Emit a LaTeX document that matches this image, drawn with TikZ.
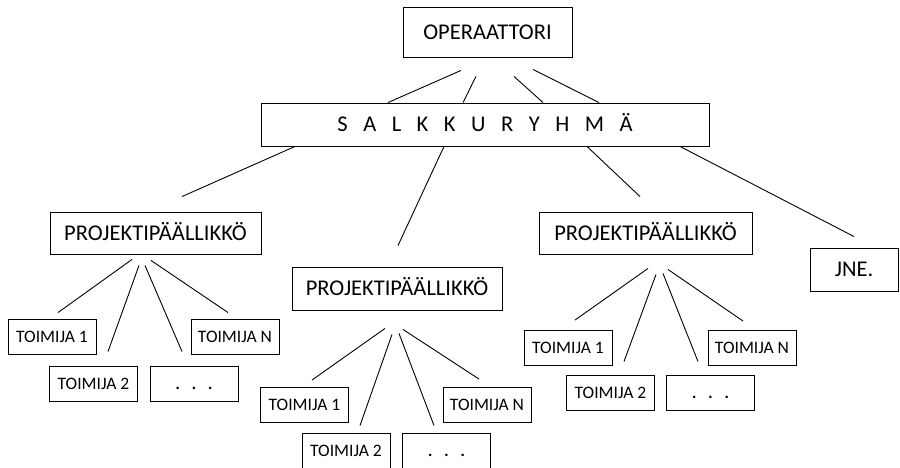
\documentclass[tikz,border=0pt]{standalone}
\usepackage{fontspec}
\setmainfont{Carlito}
\usetikzlibrary{calc}
\tikzset{box/.style={draw, line width=0.9pt, inner sep=0pt, text height=14.5pt, text depth=0pt, font=\fontsize{22.5}{26}\selectfont},
  worker/.style={draw, line width=0.9pt, inner sep=0pt, minimum width=88, minimum height=35, text height=11pt, text depth=0pt, font=\fontsize{17.5}{20}\selectfont},
  link/.style={line width=0.9pt}}
\newcommand{\lgap}{\hspace{15.5pt}}
\newcommand{\dgap}{\hspace{11pt}}

\begin{document}
\begin{tikzpicture}[x=1pt,y=-1pt]
  \useasboundingbox (0,0) rectangle (900,468);
  % top
  \node[box, minimum width=169, minimum height=50] (op) at (487.5,32) {OPERAATTORI};
  \node[box, minimum width=448, minimum height=43] (sr) at (485,124.5)
    {S\lgap A\lgap L\lgap K\lgap K\lgap U\lgap R\lgap Y\lgap H\lgap M\lgap Ä};
  % project managers
  \node[box, minimum width=211, minimum height=42] (pm1) at (155.5,233) {PROJEKTIPÄÄLLIKKÖ};
  \node[box, minimum width=210, minimum height=43] (pm2) at (397,288.5) {PROJEKTIPÄÄLLIKKÖ};
  \node[box, minimum width=213, minimum height=42] (pm3) at (645.5,233) {PROJEKTIPÄÄLLIKKÖ};
  \node[box, minimum width=88, minimum height=43] (jne) at (854,269.5) {JNE.};
  % workers
  \node[worker] (t1a) at (52,336.5) {TOIMIJA 1};
  \node[worker] (tna) at (235,336.5) {TOIMIJA N};
  \node[worker] (t2a) at (93.5,383.5) {TOIMIJA 2};
  \node[worker, font=\fontsize{21}{24}\selectfont] (dda) at (194,383.5) {.\dgap.\dgap.};
  \node[worker] (t1b) at (304.5,405) {TOIMIJA 1};
  \node[worker] (tnb) at (487,405) {TOIMIJA N};
  \node[worker] (t2b) at (346,450.5) {TOIMIJA 2};
  \node[worker, font=\fontsize{21}{24}\selectfont] (ddb) at (446.5,450.5) {.\dgap.\dgap.};
  \node[worker] (t1c) at (568,348) {TOIMIJA 1};
  \node[worker] (tnc) at (752,348) {TOIMIJA N};
  \node[worker] (t2c) at (610.5,392.5) {TOIMIJA 2};
  \node[worker, font=\fontsize{21}{24}\selectfont] (ddc) at (710.5,392.5) {.\dgap.\dgap.};

  % operaattori -- salkkuryhma
  \draw[link] ($(op.south)+(-26.5,13)$) -- ($(sr.north)+(-97,0)$);
  \draw[link] ($(op.south)+(-11.5,19)$) -- ($(sr.north)+(-22,0)$);
  \draw[link] ($(op.south)+(26.5,19)$) -- ($(sr.north)+(58,0)$);
  \draw[link] ($(op.south)+(45.5,12)$) -- ($(sr.north)+(114,0)$);
  % salkkuryhma -- managers
  \draw[link] ($(sr.south)+(-190,0)$) -- ($(pm1.north)+(26.5,-15)$);
  \draw[link] ($(sr.south)+(-41,0)$) -- ($(pm2.north)+(1,-21)$);
  \draw[link] ($(sr.south)+(102,0)$) -- ($(pm3.north)+(-5.5,-15)$);
  \draw[link] ($(sr.south)+(195,0)$) -- ($(jne.north)+(0,-11)$);
  % managers -- workers
  \draw[link] ($(pm1.south)+(-23.5,5)$) -- ($(t1a.north)+(6,-6)$);
  \draw[link] ($(pm1.south)+(-16.5,11)$) -- ($(t2a.north)+(14.5,-14)$);
  \draw[link] ($(pm1.south)+(-10.5,11)$) -- ($(dda.north)+(-12,-14)$);
  \draw[link] ($(pm1.south)+(-4.5,6)$) -- ($(tna.north)+(-7,-6)$);
  \draw[link] ($(pm2.south)+(-12,18)$) -- ($(t1b.north)+(7.5,-7)$);
  \draw[link] ($(pm2.south)+(-5,24)$) -- ($(t2b.north)+(14,-7)$);
  \draw[link] ($(pm2.south)+(2,23)$) -- ($(ddb.north)+(-12.5,-7)$);
  \draw[link] ($(pm2.south)+(6,19)$) -- ($(tnb.north)+(-8,-8)$);
  \draw[link] ($(pm3.south)+(2.5,14)$) -- ($(t1c.north)+(7,-10)$);
  \draw[link] ($(pm3.south)+(10.5,20)$) -- ($(t2c.north)+(13.5,-13)$);
  \draw[link] ($(pm3.south)+(17.5,19)$) -- ($(ddc.north)+(-12.5,-13)$);
  \draw[link] ($(pm3.south)+(22.5,15)$) -- ($(tnc.north)+(-9,-9)$);
\end{tikzpicture}
\end{document}
